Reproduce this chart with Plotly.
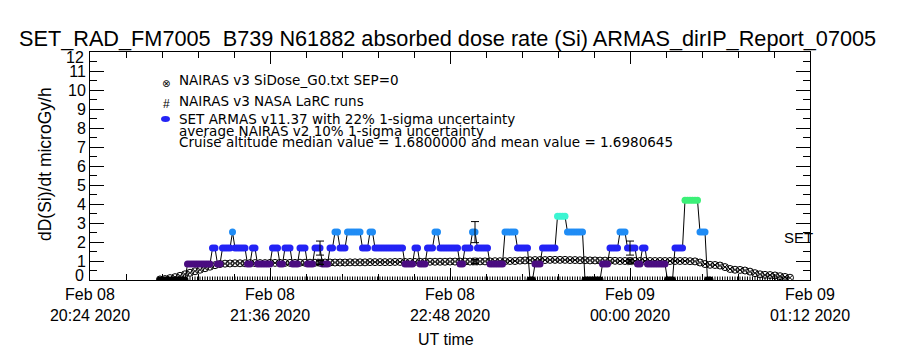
import plotly.graph_objects as go
import pandas as pd

# ---------------- data ----------------
flight_start = pd.Timestamp("2020-02-08 20:24:00")

# SET ARMAS dose rate, one value per minute starting 28 min after 20:24
armas_first_minute = 28
armas_dose = [
    0, 0, 0, 0, 0, 0, 0, 0, 0, 0,
    0, 0.84, 0.84, 0.84, 0.84, 0.84, 0.84, 0.84, 0.84, 0.84,
    0.84, 1.68, 1.68, 0.84, 0.84, 1.68, 1.68, 1.68, 1.68, 2.52,
    1.68, 1.68, 1.68, 1.68, 1.68, 0.84, 0.84, 1.68, 1.68, 0.84,
    0.84, 0.84, 0.84, 0.84, 0.84, 1.68, 1.68, 1.68, 0.84, 0.84,
    1.68, 1.68, 1.68, 0.84, 0.84, 0.84, 1.68, 1.68, 1.68, 0.84,
    0.84, 0.84, 1.68, 1.68, 1.68, 0.84, 0.84, 0.84, 1.68, 1.68,
    2.52, 2.52, 1.68, 1.68, 1.68, 2.52, 2.52, 2.52, 2.52, 2.52,
    2.52, 1.68, 1.68, 1.68, 2.52, 2.52, 1.68, 1.68, 1.68, 1.68,
    1.68, 1.68, 1.68, 1.68, 1.68, 1.68, 1.68, 1.68, 0.84, 0.84,
    0.84, 0.84, 1.68, 1.68, 0.84, 0.84, 0.84, 1.68, 1.68, 1.68,
    2.52, 2.52, 1.68, 1.68, 1.68, 1.68, 1.68, 1.68, 1.68, 1.68,
    0.84, 0.84, 1.68, 1.68, 1.68, 2.52, 2.52, 1.68, 1.68, 1.68,
    1.68, 1.68, 0.84, 0.84, 0.84, 0.84, 0.84, 0.84, 2.52, 2.52,
    2.52, 2.52, 2.52, 1.68, 1.68, 1.68, 1.68, 1.68, 0, 0,
    0.84, 0.84, 0.84, 1.68, 1.68, 1.68, 1.68, 1.68, 1.68, 3.36,
    3.36, 3.36, 3.36, 2.52, 2.52, 2.52, 2.52, 2.52, 2.52, 2.52,
    0, 0, 0, 0, 0, 0, 0, 0.84, 0.84, 0.84,
    1.68, 1.68, 1.68, 1.68, 2.52, 2.52, 2.52, 1.68, 1.68, 1.68,
    1.68, 0.84, 0.84, 1.68, 1.68, 0.84, 0.84, 0.84, 0.84, 0.84,
    0.84, 0.84, 0.84, 0, 0, 0, 1.68, 1.68, 1.68, 1.68,
    4.20, 4.20, 4.20, 4.20, 4.20, 4.20, 2.52, 2.52, 2.52, 0,
    0,
]
armas_uncertainty_pct = 22
armas_errbar_minutes = [92, 154, 216]

# NAIRAS v3 SiDose_G0 model, every 2 minutes starting 28 min after 20:24
nairas_first_minute = 28
nairas_step_minutes = 2
nairas_dose = [
    0.03, 0.05, 0.10, 0.15, 0.22, 0.30, 0.38, 0.46, 0.54, 0.62, 0.70, 0.78, 0.84, 0.86, 0.87,
    0.88, 0.88, 0.88, 0.89, 0.89, 0.89, 0.89, 0.90, 0.90, 0.90, 0.90, 0.90, 0.90, 0.91, 0.91,
    0.91, 0.91, 0.91, 0.92, 0.92, 0.92,
    0.92, 0.92, 0.93, 0.93, 0.93, 0.93, 0.94, 0.94, 0.94, 0.94, 0.94, 0.95, 0.95, 0.95, 0.95,
    0.95, 0.96, 0.96, 0.96, 0.96, 0.96,
    0.96, 0.97, 0.97, 0.97, 0.97, 0.97, 0.98, 0.98, 0.98, 0.98, 0.99, 0.99, 0.99, 1.00, 1.00,
    1.02, 1.03, 1.04, 1.05, 1.05,
    1.05, 1.06, 1.06, 1.06, 1.06, 1.05, 1.05, 1.04, 1.04, 1.03, 1.03, 1.02, 1.02, 1.01, 1.01,
    1.00, 1.00, 1.00, 1.00, 1.00,
    1.00, 1.00, 1.00, 1.00, 1.00, 1.00, 1.00, 1.00, 1.00, 0.99,
    0.98, 0.92, 0.84, 0.80, 0.79, 0.76, 0.68, 0.58, 0.54, 0.53, 0.50, 0.44, 0.36, 0.30, 0.27,
    0.26, 0.24, 0.20, 0.16, 0.12,
]
nairas_uncertainty_pct = 10

# NAIRAS v3 NASA LaRC runs
larc_minutes = [92, 154, 216]
larc_dose = [0.92, 0.97, 0.99]

# per-minute record marks along the baseline
record_first_minute = 40
record_last_minute = 279

tick_times = ["2020-02-08 20:24", "2020-02-08 21:36", "2020-02-08 22:48",
              "2020-02-09 00:00", "2020-02-09 01:12"]
tick_labels = ["Feb 08<br>20:24 2020", "Feb 08<br>21:36 2020", "Feb 08<br>22:48 2020",
               "Feb 09<br>00:00 2020", "Feb 09<br>01:12 2020"]
y_ticks = list(range(0, 13))

title_text = "SET_RAD_FM7005  B739 N61882 absorbed dose rate (Si) ARMAS_dirIP_Report_07005"
legend_lines = ["NAIRAS v3 SiDose_G0.txt SEP=0",
                "NAIRAS v3 NASA LaRC runs",
                "SET ARMAS v11.37 with 22% 1-sigma uncertainty",
                "average NAIRAS v2 10% 1-sigma uncertainty",
                "Cruise altitude median value = 1.6800000 and mean value = 1.6980645"]

# ---------------- derived ----------------
def minute_to_time(m):
    return flight_start + pd.Timedelta(minutes=m)

armas_t = [minute_to_time(armas_first_minute + i) for i in range(len(armas_dose))]
nairas_t = [minute_to_time(nairas_first_minute + nairas_step_minutes * i) for i in range(len(nairas_dose))]
err_t = [minute_to_time(m) for m in armas_errbar_minutes]
err_v = [armas_dose[m - armas_first_minute] for m in armas_errbar_minutes]
larc_t = [minute_to_time(m) for m in larc_minutes]
rec_t = [minute_to_time(m) for m in range(record_first_minute, record_last_minute + 1)]
rec_v = [0 for _ in rec_t]

FONT = "Liberation Sans"
LEGFONT = "DejaVu Sans"
fig = go.Figure()

# baseline record marks
fig.add_trace(go.Scatter(x=rec_t, y=rec_v, mode="markers", cliponaxis=True,
                         marker=dict(symbol="line-ns-open", size=5, color="black",
                                     line=dict(width=1, color="black")),
                         showlegend=False, hoverinfo="skip"))

# NAIRAS model band
fig.add_trace(go.Scatter(x=nairas_t, y=nairas_dose, mode="markers",
                         marker=dict(symbol="circle-x-open", size=7, color="black",
                                     line=dict(width=1, color="black")),
                         showlegend=False))

# ARMAS line + coloured markers
fig.add_trace(go.Scatter(x=armas_t, y=armas_dose, mode="lines+markers",
                         line=dict(color="black", width=1),
                         marker=dict(symbol="circle", size=7, color=armas_dose,
                                     cmin=0, cmax=4.2,
                                     colorscale=[[0.0, "#000000"], [0.2, "#4a0c80"],
                                                 [0.4, "#2323f5"], [0.6, "#1f8cf5"],
                                                 [0.8, "#3cf5d2"], [1.0, "#3cf078"]],
                                     line=dict(width=0)),
                         showlegend=False))

# ARMAS uncertainty bars
fig.add_trace(go.Scatter(x=err_t, y=err_v, mode="markers",
                         marker=dict(size=1, color="rgba(0,0,0,0)"),
                         error_y=dict(type="percent", value=armas_uncertainty_pct,
                                      color="black", thickness=1, width=4),
                         showlegend=False))

# LaRC runs
fig.add_trace(go.Scatter(x=larc_t, y=larc_dose, mode="markers",
                         marker=dict(symbol="hash-open", size=8, color="black",
                                     line=dict(width=1, color="black")),
                         error_y=dict(type="percent", value=nairas_uncertainty_pct,
                                      color="black", thickness=1, width=4),
                         showlegend=False))

# ---------------- layout ----------------
L, R, T, B = 90, 810, 52, 280
W, H = 900, 350

def px(x):
    return (x - L) / (R - L)

def py(y):
    return (B - y) / (B - T)

ann = []
ann.append(dict(text=title_text, xref="paper", yref="paper", x=px(447), y=py(38),
                xanchor="center", yanchor="middle", showarrow=False,
                font=dict(family=FONT, size=21.7, color="black")))
ann.append(dict(text="dD(Si)/dt microGy/h", xref="paper", yref="paper", x=px(45), y=py(164),
                xanchor="center", yanchor="middle", textangle=-90, showarrow=False,
                font=dict(family=FONT, size=17.5, color="black")))
ann.append(dict(text="UT time", xref="paper", yref="paper", x=px(446), y=py(339),
                xanchor="center", yanchor="middle", showarrow=False,
                font=dict(family=FONT, size=16, color="black")))
ann.append(dict(text="SET", xref="paper", yref="paper", x=px(782), y=py(237),
                xanchor="left", yanchor="middle", showarrow=False,
                font=dict(family=FONT, size=15, color="black")))
# y labels for 0 and 12 are nudged inside the frame
ann.append(dict(text="0", xref="paper", yref="y", x=0, y=0, xanchor="right", yanchor="middle",
                xshift=-4, yshift=5, showarrow=False, font=dict(family=FONT, size=16, color="black")))
ann.append(dict(text="12", xref="paper", yref="y", x=0, y=12, xanchor="right", yanchor="middle",
                xshift=-4, yshift=-5, showarrow=False, font=dict(family=FONT, size=16, color="black")))

leg_y = [80, 101, 119, 131, 142]
for txt, yy in zip(legend_lines, leg_y):
    ann.append(dict(text=txt, xref="paper", yref="paper", x=px(177), y=py(yy),
                    xanchor="left", yanchor="middle", showarrow=False,
                    font=dict(family=LEGFONT, size=13.5, color="black")))
ann.append(dict(text="⊗", xref="paper", yref="paper", x=px(166), y=py(83),
                xanchor="center", yanchor="middle", showarrow=False,
                font=dict(family="DejaVu Sans", size=10, color="black")))
ann.append(dict(text="#", xref="paper", yref="paper", x=px(166), y=py(104),
                xanchor="center", yanchor="middle", showarrow=False,
                font=dict(family=FONT, size=12, color="black")))

shapes = [dict(type="circle", xref="paper", yref="paper",
               x0=px(161), x1=px(170), y0=py(122), y1=py(116),
               fillcolor="#2323f5", line=dict(width=0))]

y_text = ["" if v in (0, 12) else str(v) for v in y_ticks]

fig.update_layout(
    width=W, height=H,
    margin=dict(l=L, r=W - R, t=T, b=H - B),
    paper_bgcolor="white", plot_bgcolor="white",
    font=dict(family=FONT, color="black"),
    annotations=ann, shapes=shapes,
    xaxis=dict(type="date",
               range=[tick_times[0], tick_times[-1]],
               tickvals=tick_times, ticktext=tick_labels,
               ticks="inside", ticklen=12, tickwidth=1, tickcolor="black",
               minor=dict(ticks="inside", ticklen=6, tickwidth=1, tickcolor="black",
                          dtick=864000, tick0=tick_times[0], showgrid=False),
               showline=True, linecolor="black", linewidth=1, mirror="allticks",
               showgrid=False, zeroline=False,
               tickfont=dict(family=FONT, size=16, color="black"),
               ticklabelstandoff=0),
    yaxis=dict(range=[0, 12], tickvals=y_ticks, ticktext=y_text,
               ticks="inside", ticklen=14, tickwidth=1, tickcolor="black",
               minor=dict(ticks="inside", ticklen=7, tickwidth=1, tickcolor="black",
                          dtick=0.5, showgrid=False),
               showline=True, linecolor="black", linewidth=1, mirror="allticks",
               showgrid=False, zeroline=False,
               tickfont=dict(family=FONT, size=16, color="black")),
    showlegend=False,
)

fig.write_html("out.html")
